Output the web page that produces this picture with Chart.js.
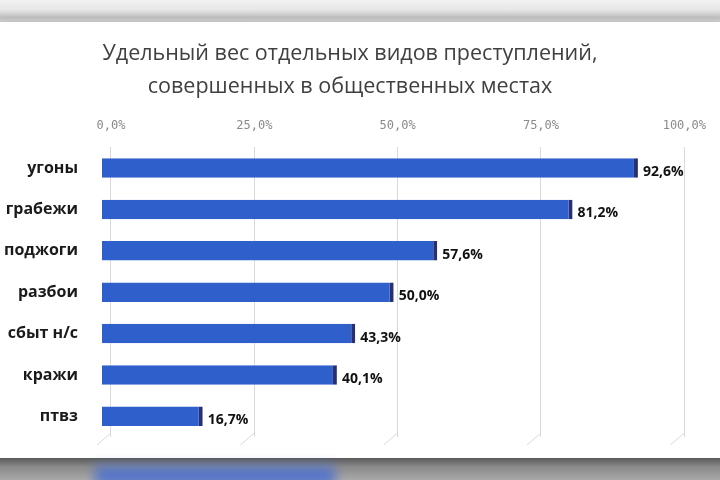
<!DOCTYPE html>
<html>
<head>
<meta charset="utf-8">
<script src="https://cdn.jsdelivr.net/npm/chart.js@4"></script>
<style>
  html, body { margin: 0; padding: 0; }
  body {
    width: 720px; height: 480px; overflow: hidden; position: relative;
    background: #9a9a9a;
  }
  #topband {
    position: absolute; left: 0; top: 0; width: 720px; height: 22px;
    background: linear-gradient(to bottom, #f2f2f2 0%, #e6e6e6 45%, #bdbdbd 80%, #d8d8d8 100%);
  }
  #panel {
    position: absolute; left: 0; top: 22px; width: 720px; height: 436px;
    background: #ffffff;
    box-shadow: 0 3px 6px rgba(0,0,0,0.6);
  }
  #bottomband {
    position: absolute; left: 0; top: 458px; width: 720px; height: 22px;
    background: linear-gradient(to bottom, #5a5a5a 0%, #8a8a8a 40%, #a8a8a8 100%);
  }
  #blob {
    position: absolute; left: 95px; top: 466px; width: 240px; height: 20px;
    background: #4a6fd0; filter: blur(6px); opacity: 0.85;
  }
  #wrap { position: absolute; left: 0; top: 0; width: 720px; height: 480px; }
</style>
</head>
<body>
<div id="topband"></div>
<div id="panel"></div>
<div id="bottomband"></div>
<div id="blob"></div>
<div id="wrap"><canvas id="myChart" width="720" height="480"></canvas></div>
<script>
const categories = ["угоны", "грабежи", "поджоги", "разбои", "сбыт н/с", "кражи", "птвз"];
const values = [92.6, 81.2, 57.6, 50.0, 43.3, 40.1, 16.7];
const tickValues = [0, 25, 50, 75, 100];
const titleLines = ["Удельный вес отдельных видов преступлений,", "совершенных в общественных местах"];

const fmt = (v) => v.toFixed(1).replace(".", ",") + "%";

// value labels at the end of each bar
const barLabels = {
  id: "barLabels",
  afterDatasetsDraw(chart) {
    const ctx = chart.ctx;
    const meta = chart.getDatasetMeta(0);
    ctx.save();
    ctx.font = "bold 14px 'Open Sans', sans-serif";
    ctx.fillStyle = "#111111";
    ctx.textAlign = "left";
    ctx.textBaseline = "middle";
    meta.data.forEach((bar, i) => {
      ctx.fillText(fmt(values[i]), bar.x + 5, bar.y + 4);
    });
    ctx.restore();
  },
};

// little "floor" strokes under the gridlines (3d look)
const floorLines = {
  id: "floorLines",
  beforeDatasetsDraw(chart) {
    const ctx = chart.ctx;
    const sx = chart.scales.x2;
    const bottom = chart.chartArea.bottom;
    ctx.save();
    ctx.strokeStyle = "#d9d9d9";
    ctx.lineWidth = 1;
    tickValues.forEach((v) => {
      const px = sx.getPixelForValue(v);
      ctx.beginPath();
      ctx.moveTo(px, bottom - 4);
      ctx.lineTo(px - 14, bottom + 8);
      ctx.stroke();
    });
    ctx.restore();
  },
};

const chart1 = document.getElementById("myChart");
new Chart(chart1, {
  type: "bar",
  data: {
    labels: categories,
    datasets: [
      {
        data: values,
        xAxisID: "x",
        base: -0.87,
        backgroundColor: "#2f5fca",
        borderColor: "#2a2f75",
        borderWidth: { top: 0, right: 4, bottom: 0, left: 0 },
        borderSkipped: false,
        categoryPercentage: 1,
        barPercentage: 0.47,
      },
    ],
  },
  plugins: [floorLines, barLabels],
  options: {
    indexAxis: "y",
    responsive: false,
    animation: false,
    layout: {
      padding: { left: 0, right: 20, top: 0, bottom: 43 },
    },
    plugins: {
      legend: { display: false },
      tooltip: { enabled: false },
      title: {
        display: true,
        text: titleLines,
        color: "#404040",
        font: { family: "'Open Sans', sans-serif", size: 21.5, weight: "normal", lineHeight: 1.535 },
        padding: { top: 37.5, bottom: 1.5 },
      },
    },
    scales: {
      // bar scale (front face of the 3d bars sits a bit left of the grid)
      x: {
        display: false,
        position: "top",
        min: -1.042,
        max: 100.69,
      },
      // grid + tick labels
      x2: {
        position: "top",
        min: -1.736,
        max: 100,
        afterBuildTicks: (axis) => {
          axis.ticks = tickValues.map((v) => ({ value: v }));
        },
        ticks: {
          color: "#8a8a8a",
          font: { family: "'DejaVu Sans Mono', monospace", size: 12 },
          padding: 14,
          callback: (value) => fmt(value),
        },
        grid: { color: "#d9d9d9", drawTicks: false },
        border: { display: false },
      },
      y: {
        afterFit: (axis) => {
          axis.width = 101;
        },
        ticks: {
          color: "#1a1a1a",
          font: { family: "'Open Sans', sans-serif", size: 16, weight: "bold" },
          padding: 15,
        },
        grid: { display: false },
        border: { display: false },
      },
    },
  },
});
</script>
</body>
</html>
